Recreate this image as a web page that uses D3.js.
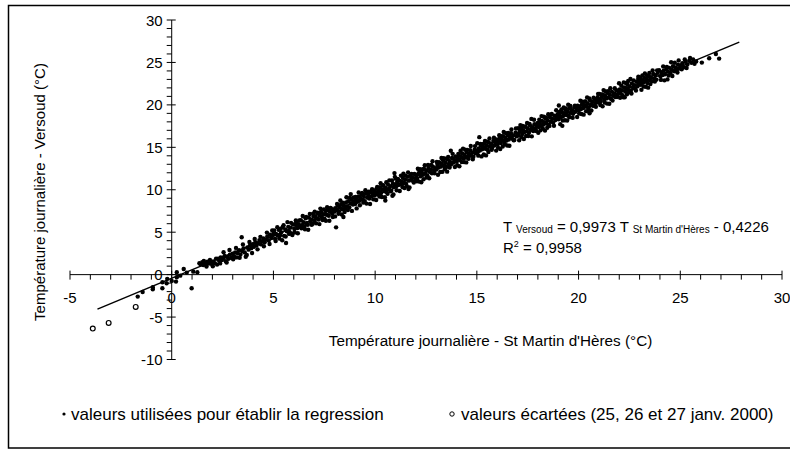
<!DOCTYPE html>
<html>
<head>
<meta charset="utf-8">
<script src="https://cdn.jsdelivr.net/npm/d3@7"></script>
<style>
  body{margin:0;background:#fff;}
  svg text{font-family:"Liberation Sans",Arial,sans-serif;fill:#000;}
</style>
</head>
<body>
<svg id="chart" width="790" height="449"></svg>
<script>
// points: [T St Martin d'Hères, T Versoud]
var excluded=[[-3.88,-6.36],[-3.10,-5.69],[-1.77,-3.80]];
var pointsCold=[[-1.67,-2.59],[-1.43,-2.04],[-0.93,-1.72],[-0.93,-1.48],[-0.46,-1.6],[-0.46,-0.9],[-0.25,-1.01],[-0.22,-0.5],[0,-0.74],[0.21,-0.82],[0.25,0.28],[0.25,-0.31],[0.42,-0.12],[0.59,0.67],[0.74,0.24],[0.98,-1.6],[1.06,0.35],[1.26,0.28],
[1.36,1.34],[1.42,1.21],[1.5,1.45],[1.55,1.12],[1.62,1.38],[1.68,1.27],[1.75,1.52],[1.83,1.31],[1.9,1.46],[1.97,1.24],[2.04,1.55],[2.12,1.36],[2.23,1.18],[2.28,1.89],[2.33,1.64],[2.41,2.02],[2.47,1.71],[2.53,1.94],[2.6,2.21],[2.66,1.58],[2.72,2.09],[2.79,1.86],[2.86,2.34],[2.93,1.97],[2.99,2.46],[3.06,2.18],[3.12,2.61],[3.19,2.03],[3.25,2.52],[3.31,2.87],[3.38,2.36],[3.44,4.4],[3.47,2.74],[3.53,3.08],[3.59,2.62],[3.69,2.32],[3.72,3.21],[3.78,2.94],[3.85,3.46],[3.91,3.12],[3.98,3.58],[4.04,3.27],[4.11,3.81],[4.17,3.43],[4.24,3.69],[4.31,4.07],[4.38,3.58],[4.44,3.94],[4.51,4.26],[4.57,3.81],[4.64,4.13],[4.7,4.49],[4.77,4.02],[4.83,4.7],[4.9,4.31],[4.96,4.62],
[1.58,1.62],[1.71,0.95],[1.88,1.72],[2.02,0.98],[2.18,1.88],[2.38,1.32],[2.55,2.65],[2.7,1.42],[2.84,2.9],[3.02,1.82],[3.16,3.15],[3.34,1.98],[3.5,3.55],[3.64,2.1],[3.82,3.85],[3.95,2.55],[4.08,4.2],[4.22,2.98],[4.36,4.45],[4.53,3.35],[4.68,4.95],[4.81,3.6],[4.94,5.2]];
var pointsCool=[[5.02,4.87],[5.08,4.23],[5.13,4.78],[5.21,4.61],[5.27,5.27],[5.33,4.63],[5.38,4.98],[5.46,5.61],[5.52,4.57],[5.58,5.33],[5.62,3.73],[5.66,5.11],[5.73,5.63],[5.79,5.04],[5.84,5.54],[5.91,4.86],[5.96,5.91],
[5.04,5.21],[5.11,3.95],[5.19,5.59],[5.29,4.26],[5.36,5.4],[5.43,4.05],[5.5,5.82],[5.6,4.49],[5.69,6.19],[5.77,4.8],[5.87,6.1],[5.93,4.67],
[6.03,5.38],[6.07,5.92],[6.12,6.21],[6.18,5.49],[6.24,5.95],[6.29,5.61],[6.35,6.42],[6.41,5.83],[6.47,6.19],[6.52,5.71],[6.58,6.63],[6.63,6.05],[6.69,5.88],[6.74,6.71],[6.81,6.22],[6.86,6.47],[6.93,5.99],[6.97,6.85],
[6.05,4.96],[6.1,6.37],[6.2,4.87],[6.27,6.37],[6.38,5.46],[6.44,6.9],[6.55,5.35],[6.61,6.79],[6.71,5.29],[6.79,7.15],[6.88,5.87],[6.95,7.19],
[7.02,6.31],[7.06,6.88],[7.13,6.62],[7.19,7.21],[7.23,6.49],[7.28,6.97],[7.34,7.38],[7.39,6.71],[7.45,7.12],[7.51,6.58],[7.56,7.49],[7.61,7.05],[7.67,7.62],[7.72,6.93],[7.78,7.41],[7.83,7.77],[7.89,7.18],[7.94,7.66],
[7.03,7.41],[7.1,6.04],[7.17,7.3],[7.26,5.95],[7.31,7.78],[7.42,6.44],[7.48,7.69],[7.58,6.35],[7.64,7.93],[7.75,6.35],[7.81,7.87],[7.92,6.78],
[8.01,7.42],[8.04,7.83],[8.08,5.57],[8.11,7.61],[8.17,8.12],[8.22,7.48],[8.27,7.95],[8.33,8.31],[8.38,7.69],[8.44,6.79],[8.46,8.14],[8.52,7.83],[8.57,8.49],[8.62,8.02],[8.68,8.66],[8.73,7.91],[8.79,8.38],[8.8,9.49],[8.84,8.81],[8.91,8.27],[8.96,8.62],
[8.03,6.86],[8.13,8.32],[8.2,7.18],[8.29,8.73],[8.36,7.08],[8.41,8.48],[8.5,7.37],[8.59,9.11],[8.66,7.6],[8.76,9.07],[8.86,7.51],[8.94,9.08],
[9.02,8.33],[9.06,8.91],[9.12,8.59],[9.17,9.18],[9.23,8.71],[9.28,9.02],[9.33,9.47],[9.39,8.81],[9.44,9.26],[9.49,8.66],[9.55,9.58],[9.61,9.09],[9.66,9.41],[9.71,8.97],[9.77,9.73],[9.82,9.22],[9.88,9.55],[9.94,9.92],[9.98,9.31],
[9.04,9.16],[9.09,7.8],[9.19,9.67],[9.25,8.18],[9.36,9.62],[9.42,8.48],[9.52,9.94],[9.58,8.37],[9.68,9.77],[9.75,8.32],[9.85,10.06],[9.91,8.87]];
var pointsMild=[[10.03,9.68],[10.07,10.12],[10.13,9.47],[10.18,9.91],[10.24,10.31],[10.29,9.62],[10.35,10.05],[10.41,10.48],[10.46,9.83],[10.5,8.74],[10.52,10.21],[10.57,9.74],[10.63,10.62],[10.68,10.09],[10.74,10.43],[10.79,9.91],[10.85,9.29],[10.87,10.71],[10.92,10.28],[10.95,11.96],[10.98,10.61],
[10.05,8.79],[10.1,10.33],[10.21,9.21],[10.27,10.76],[10.33,9.15],[10.39,10.55],[10.48,9.11],[10.55,10.89],[10.61,9.52],[10.7,11.11],[10.77,9.82],[10.83,11.1],[10.9,9.45],[10.97,11.52],
[11.03,10.39],[11.08,10.92],[11.14,10.55],[11.19,11.08],[11.25,10.63],[11.3,10.97],[11.36,11.41],[11.41,10.78],[11.47,11.19],[11.52,10.72],[11.58,11.52],[11.64,10.08],[11.66,11.07],[11.71,11.63],[11.77,11.18],[11.82,11.45],[11.88,10.98],[11.93,11.86],[11.97,11.33],
[11.02,11.31],[11.06,9.94],[11.12,11.26],[11.21,9.85],[11.27,11.67],[11.34,10.33],[11.39,11.89],[11.44,10.2],[11.5,11.67],[11.56,10.41],[11.62,12.05],[11.69,10.27],[11.79,11.87],[11.9,10.85],
[12.02,11.71],[12.07,11.29],[12.13,11.93],[12.18,12.22],[12.24,11.58],[12.29,12.04],[12.35,11.77],[12.4,12.48],[12.46,11.91],[12.51,12.26],[12.57,11.69],[12.62,12.57],[12.68,12.11],[12.73,12.39],[12.79,11.94],[12.84,12.71],[12.9,12.23],[12.96,12.55],
[12.04,11.01],[12.1,12.47],[12.16,10.96],[12.21,12.42],[12.27,10.88],[12.33,12.39],[12.38,11.24],[12.44,12.89],[12.53,11.45],[12.6,12.92],[12.66,11.35],[12.76,12.91],[12.82,13.36],[12.92,11.95],
[13.01,12.38],[13.06,12.91],[13.12,12.61],[13.17,13.17],[13.23,12.72],[13.28,13.03],[13.34,13.44],[13.39,12.79],[13.45,13.21],[13.5,12.69],[13.56,13.58],[13.61,13.02],[13.67,13.36],[13.72,14.59],[13.73,12.98],[13.78,13.74],[13.84,13.19],[13.89,13.52],[13.95,13.91],
[13.03,13.27],[13.09,11.76],[13.14,13.25],[13.2,12.1],[13.26,13.74],[13.31,12.12],[13.37,13.73],[13.43,12.45],[13.48,13.67],[13.54,12.13],[13.59,13.86],[13.66,12.61],[13.81,14.23],[13.92,12.68],
[14.01,13.31],[14.06,13.73],[14.12,14.05],[14.17,13.49],[14.23,13.86],[14.28,14.29],[14.34,13.67],[14.39,14.11],[14.45,13.78],[14.5,14.43],[14.56,13.93],[14.61,14.25],[14.67,14.67],[14.72,14.01],[14.78,14.39],[14.83,13.88],[14.89,14.72],[14.94,14.28],[14.99,14.59],
[14.03,12.88],[14.09,14.23],[14.14,12.77],[14.2,14.59],[14.26,13.26],[14.32,14.84],[14.37,13.26],[14.43,14.71],[14.48,13.22],[14.53,14.7],[14.59,13.64],[14.7,15.15],[14.8,13.58],[14.91,15.14]];
var pointsWarm=[[15.04,14.41],[15.09,14.88],[15.12,16.2],[15.15,14.62],[15.2,15.19],[15.26,14.77],[15.31,15.03],[15.37,15.46],[15.42,14.83],[15.48,15.22],[15.53,14.71],[15.59,15.57],[15.64,15.08],[15.7,15.39],[15.75,14.96],[15.81,15.74],[15.86,15.21],[15.92,15.55],[15.97,15.92],
[15.02,15.48],[15.07,14.02],[15.17,15.39],[15.23,13.93],[15.28,15.37],[15.34,14.16],[15.4,15.75],[15.45,14.05],[15.51,15.67],[15.57,14.44],[15.62,16.03],[15.73,14.71],[15.84,16.14],[15.95,14.61],
[16.02,15.32],[16.07,15.78],[16.13,16.09],[16.18,15.51],[16.24,15.87],[16.29,16.31],[16.35,15.64],[16.4,16.12],[16.46,15.81],[16.51,16.44],[16.57,15.92],[16.62,16.27],[16.68,16.66],[16.73,16.03],[16.79,16.41],[16.84,15.86],[16.9,16.73],[16.95,16.29],
[16.04,14.96],[16.1,16.43],[16.15,14.8],[16.21,16.31],[16.27,15.1],[16.32,16.81],[16.38,15.35],[16.43,16.67],[16.49,15.21],[16.54,16.7],[16.6,15.18],[16.7,17.1],[16.81,15.84],[16.92,17.21],
[17.01,16.61],[17.06,16.38],[17.12,16.93],[17.17,17.22],[17.23,16.57],[17.28,17.01],[17.34,16.79],[17.39,17.43],[17.45,16.88],[17.5,17.21],[17.56,16.72],[17.61,17.58],[17.66,17.05],[17.68,18.35],[17.72,17.37],[17.77,16.92],[17.83,17.71],[17.88,17.18],[17.94,17.52],[17.99,17.88],
[17.03,17.24],[17.08,15.84],[17.14,17.62],[17.2,16.18],[17.25,17.51],[17.31,15.98],[17.36,17.44],[17.42,16.33],[17.47,17.86],[17.53,16.34],[17.59,17.74],[17.7,16.29],[17.81,18.25],[17.92,16.92],
[18.04,17.39],[18.09,17.84],[18.15,17.53],[18.2,18.11],[18.26,17.68],[18.31,17.97],[18.37,18.42],[18.42,17.79],[18.48,18.19],[18.53,17.66],[18.59,18.57],[18.64,18.02],[18.7,18.36],[18.75,17.91],[18.81,18.72],[18.86,18.21],[18.92,18.53],[18.97,18.89],
[18.02,16.71],[18.07,18.24],[18.13,17.0],[18.18,18.68],[18.24,17.25],[18.29,18.61],[18.35,16.97],[18.4,18.53],[18.46,17.3],[18.51,18.89],[18.57,17.52],[18.68,18.93],[18.79,17.54],[18.9,19.37],
[19.02,18.31],[19.03,19.92],[19.07,18.78],[19.13,18.55],[19.18,19.12],[19.2,17.53],[19.24,18.69],[19.29,19.01],[19.35,19.43],[19.4,18.81],[19.46,19.24],[19.51,18.73],[19.57,19.58],[19.62,19.06],[19.68,19.37],[19.73,18.94],[19.79,19.71],[19.84,19.19],[19.9,19.52],[19.95,19.89],
[19.05,19.18],[19.1,17.73],[19.16,19.47],[19.22,18.16],[19.27,19.69],[19.33,18.19],[19.38,19.57],[19.44,18.16],[19.49,20.01],[19.55,18.55],[19.6,19.87],[19.71,18.48],[19.82,19.9],[19.93,18.58]];
var pointsHot=[[20.01,19.33],[20.06,19.81],[20.12,19.52],[20.17,20.07],[20.23,19.63],[20.28,19.96],[20.34,20.41],[20.39,19.77],[20.45,20.17],[20.5,19.69],[20.54,19.02],[20.56,20.54],[20.61,19.98],[20.67,20.33],[20.72,19.88],[20.78,20.69],[20.83,20.22],[20.89,20.51],[20.94,20.91],[20.99,20.26],
[20.03,18.99],[20.09,20.48],[20.14,18.92],[20.2,20.38],[20.25,18.85],[20.31,20.38],[20.37,19.26],[20.42,20.88],[20.48,19.3],[20.53,20.76],[20.63,19.33],[20.74,20.85],[20.85,19.78],[20.96,21.3],
[21.04,20.63],[21.09,20.39],[21.15,20.94],[21.2,21.22],[21.26,20.58],[21.31,21.04],[21.37,20.76],[21.42,21.41],[21.48,20.87],[21.53,21.19],[21.59,20.71],[21.64,21.56],[21.7,21.06],[21.75,21.36],[21.81,20.92],[21.86,21.72],[21.92,21.18],[21.97,21.51],
[21.02,21.3],[21.07,19.98],[21.12,21.22],[21.18,19.84],[21.23,21.74],[21.29,20.27],[21.34,21.57],[21.4,20.15],[21.45,21.6],[21.51,20.13],[21.56,21.96],[21.67,20.52],[21.78,21.97],[21.89,20.92],
[21.99,22.55],[22.02,21.83],[22.07,21.35],[22.13,21.72],[22.2,20.9],[22.24,22.06],[22.29,21.58],[22.35,21.97],[22.4,22.39],[22.46,21.74],[22.51,22.16],[22.57,21.67],[22.62,22.53],[22.68,21.98],[22.73,22.32],[22.79,21.89],[22.84,22.71],[22.9,22.19],[22.94,23.33],[22.96,22.47],
[22.04,20.84],[22.1,22.25],[22.16,21.13],[22.22,22.65],[22.27,20.9],[22.33,22.58],[22.38,21.26],[22.44,22.81],[22.49,21.5],[22.55,23.05],[22.6,21.34],[22.71,22.89],[22.82,21.68],[22.93,23.05],
[23.01,22.81],[23.06,22.36],[23.12,22.92],[23.17,22.61],[23.23,23.18],[23.28,22.74],[23.34,23.04],[23.39,22.58],[23.45,23.41],[23.5,22.93],[23.56,23.27],[23.61,22.79],[23.67,23.63],[23.72,23.11],[23.78,23.49],[23.83,22.98],[23.89,23.77],[23.96,24.1],
[23.03,23.2],[23.09,21.79],[23.14,23.48],[23.2,22.15],[23.26,23.71],[23.31,22.14],[23.37,23.48],[23.42,22.03],[23.48,23.77],[23.53,22.45],[23.64,24.06],[23.75,22.75],[23.86,24.07],
[24.02,23.38],[24.08,23.84],[24.13,23.52],[24.19,24.03],[24.25,23.61],[24.31,24.22],[24.37,23.0],[24.4,23.89],[24.46,24.36],[24.52,23.77],[24.58,24.18],[24.64,24.57],[24.7,23.96],[24.76,24.41],[24.83,24.12],[24.89,24.73],[24.95,24.29],
[24.05,22.94],[24.16,24.52],[24.22,22.89],[24.34,24.48],[24.43,23.45],[24.55,25.02],[24.61,23.41],[24.73,24.96],[24.86,23.81],[24.92,25.24],
[25.03,24.62],[25.1,24.91],[25.18,24.43],[25.26,25.08],[25.35,24.77],[25.44,25.21],[25.55,24.95],[25.63,25.34],[25.78,25.12],[26.06,24.98],[26.42,25.5],[26.75,26.0],[26.91,25.45],
[25.07,24.2],[25.22,25.35],[25.31,24.35],[25.48,25.52],[25.7,24.85]];

// regression as printed on the chart, and the span the trend line covers
var slope=0.9973, intercept=-0.4226;
var trendSpan=[-3.65,27.9];

var xTickLabels=[-5,0,5,10,15,20,25,30];
var yTickLabels=[-10,-5,0,5,10,15,20,25,30];
var xTitle="Température journalière - St Martin d'Hères (°C)";
var yTitle="Température journalière - Versoud (°C)";
var legendLabels=["valeurs utilisées pour établir la regression","valeurs écartées (25, 26 et 27 janv. 2000)"];

var svg=d3.select('#chart');
var x=d3.scaleLinear().domain([-5,30]).range([70,782]);
var y=d3.scaleLinear().domain([-10,30]).range([359.5,20]);

// frame
svg.append('rect')
  .attr('x',8.5).attr('y',5.5).attr('width',800).attr('height',442.5)
  .attr('fill','none').attr('stroke','#000').attr('stroke-width',1.5);

var axes=svg.append('g').attr('stroke','#000').attr('stroke-width',1);

// x axis (runs through y = 0)
axes.append('line')
  .attr('x1',x(-5)).attr('x2',x(30)).attr('y1',y(0)).attr('y2',y(0));
axes.selectAll('.xtick').data(d3.range(-5,31)).enter().append('line')
  .attr('x1',d=>x(d)).attr('x2',d=>x(d))
  .attr('y1',d=>d%5===0 ? y(0)-4 : y(0))
  .attr('y2',y(0)+5);

// y axis (runs through x = 0)
axes.append('line')
  .attr('x1',x(0)).attr('x2',x(0)).attr('y1',y(-10)).attr('y2',y(30));
axes.selectAll('.ytick').data(d3.range(-10,31)).enter().append('line')
  .attr('y1',d=>y(d)).attr('y2',d=>y(d))
  .attr('x1',x(0)-5)
  .attr('x2',d=>d%5===0 ? x(0)+4 : x(0));

svg.selectAll('.xlab').data(xTickLabels).enter().append('text')
  .attr('x',d=>x(d)).attr('y',y(0)+28)
  .attr('text-anchor','middle').attr('font-size',15)
  .text(d=>d);
svg.selectAll('.ylab').data(yTickLabels).enter().append('text')
  .attr('x',x(0)-9).attr('y',d=>y(d)+5.5)
  .attr('text-anchor','end').attr('font-size',15)
  .text(d=>d);

// trend line
svg.append('line')
  .attr('x1',x(trendSpan[0])).attr('y1',y(slope*trendSpan[0]+intercept))
  .attr('x2',x(trendSpan[1])).attr('y2',y(slope*trendSpan[1]+intercept))
  .attr('stroke','#000').attr('stroke-width',1.4);

// points
var used=pointsCold.concat(pointsCool,pointsMild,pointsWarm,pointsHot);
svg.append('g').selectAll('circle').data(used).enter().append('circle')
  .attr('cx',d=>x(d[0])).attr('cy',d=>y(d[1])).attr('r',2.2)
  .attr('fill','#000');
svg.append('g').selectAll('circle').data(excluded).enter().append('circle')
  .attr('cx',d=>x(d[0])).attr('cy',d=>y(d[1])).attr('r',2.4)
  .attr('fill','#fff').attr('stroke','#000').attr('stroke-width',1.2);

// axis titles
svg.append('text')
  .attr('x',490.5).attr('y',346)
  .attr('text-anchor','middle').attr('font-size',15.25)
  .text(xTitle);
svg.append('text')
  .attr('transform','translate(45,192) rotate(-90)')
  .attr('text-anchor','middle').attr('font-size',15)
  .text(yTitle);

// equation
var eq=svg.append('text').attr('x',503).attr('y',232).attr('font-size',15);
eq.append('tspan').text('T ');
eq.append('tspan').attr('font-size',10).attr('dy',1).text('Versoud');
eq.append('tspan').attr('dy',-1).text('  = 0,9973 T ');
eq.append('tspan').attr('font-size',10).attr('dy',1).text("St Martin d'Hères");
eq.append('tspan').attr('dy',-1).text(' - 0,4226');
var r2=svg.append('text').attr('x',503).attr('y',253).attr('font-size',15);
r2.append('tspan').text('R');
r2.append('tspan').attr('font-size',9).attr('dy',-6).text('2');
r2.append('tspan').attr('dy',6).text(' = 0,9958');

// legend
var legend=svg.append('g');
legend.append('circle').attr('cx',64).attr('cy',414).attr('r',1.6).attr('fill','#000');
legend.append('text').attr('x',71).attr('y',420).attr('font-size',17).text(legendLabels[0]);
legend.append('circle').attr('cx',452).attr('cy',414).attr('r',2.2)
  .attr('fill','#fff').attr('stroke','#000').attr('stroke-width',1);
legend.append('text').attr('x',461).attr('y',420).attr('font-size',17).text(legendLabels[1]);
</script>
</body>
</html>
